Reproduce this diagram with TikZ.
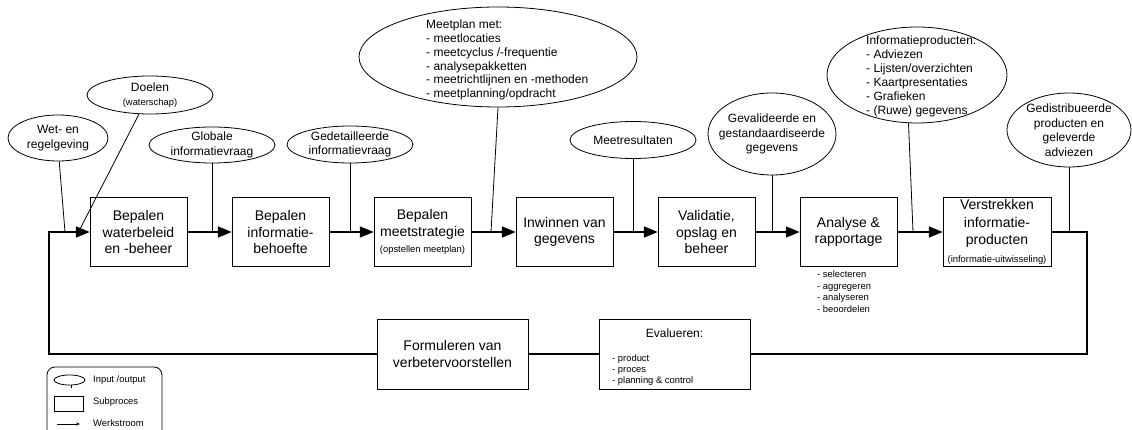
\documentclass[tikz,border=0pt]{standalone}
\usepackage{fontspec}
\setmainfont{Liberation Sans}
\usepackage{tikz}
\usetikzlibrary{arrows.meta,shapes,positioning}

\newcommand{\boxfont}{\fontsize{14}{16.5}\selectfont}
\newcommand{\iofont}{\fontsize{12}{14.5}\selectfont}
\newcommand{\kleinfont}{\fontsize{9.4}{11.7}\selectfont}

\tikzstyle{subproces} = [draw, rectangle, minimum width=97, minimum height=69,
    inner sep=1pt, align=center, font=\boxfont]
\tikzstyle{io} = [draw, ellipse, inner sep=0pt, line width=0.8pt]
\tikzstyle{iotekst} = [align=center, inner sep=0pt, font=\iofont]
\tikzstyle{lijst} = [align=left, inner sep=0pt, anchor=north west, font=\kleinfont]
\tikzstyle{legenda} = [anchor=west, inner sep=0pt, font=\kleinfont]
\tikzstyle{invoer} = [line width=0.8pt]
\tikzstyle{lijn} = [line width=1.8pt]
\tikzstyle{werkstroom} = [lijn, -{Triangle[length=14pt,width=11pt]}]

\begin{document}
\begin{tikzpicture}[x=1pt, y=-1pt, node distance=142pt]
  \useasboundingbox (0,0) rectangle (1132,430);

  % Place subprocesses
  \node [subproces] (b1) at (138.5,232) {Bepalen\\waterbeleid\\en -beheer};
  \node [subproces, right of=b1] (b2) {Bepalen\\informatie-\\behoefte};
  \node [subproces, right of=b2] (b3)
  {Bepalen\\meetstrategie\\{\kleinfont (opstellen meetplan)}};
  \node [subproces, right of=b3] (b4) {Inwinnen van\\gegevens};
  \node [subproces, right of=b4] (b5) {Validatie,\\opslag en\\beheer};
  \node [subproces, right of=b5] (b6) {Analyse \&\\rapportage};
  \node [subproces, right of=b6, node distance=148.5pt, minimum width=108,
    font=\fontsize{14}{17.5}\selectfont] (b7)
  {Verstrekken\\informatie-\\producten\\{\kleinfont (informatie-uitwisseling)}};
  \node [lijst] (b6lijst) at (817,270.5)
  {- selecteren\\- aggregeren\\- analyseren\\- beoordelen};

  \node [subproces, minimum width=151, minimum height=70] (form) at (452.5,354)
  {Formuleren van\\verbetervoorstellen};
  \node [subproces, minimum width=151, minimum height=70] (eval) at (674.5,354) {};
  \node [iotekst, below=9.5pt of eval.north] (evalkop) {Evalueren:};
  \node [lijst, font=\fontsize{9.4}{11}\selectfont] (evallijst) at (612,354.6)
  {- product\\- proces\\- planning \& control};

  % Place input/output
  \node [io, minimum width=100, minimum height=46] (wet) at (58,138) {};
  \node [iotekst] (wettekst) at (wet) {Wet- en\\regelgeving};
  \node [io, minimum width=126, minimum height=38] (doel) at (150,95) {};
  \node [iotekst] (doeltekst) at (doel) {Doelen\\{\kleinfont (waterschap)}};
  \node [io, minimum width=126, minimum height=36] (glob) at (212,145) {};
  \node [iotekst] (globtekst) at (glob) {Globale\\informatievraag};
  \node [io, minimum width=126, minimum height=37] (ged) at (350,144.5) {};
  \node [iotekst] (gedtekst) at (ged) {Gedetailleerde\\informatievraag};
  \node [io, minimum width=278, minimum height=100] (meet) at (498,57) {};
  \node [iotekst, align=left, anchor=north west, font=\fontsize{12}{13.9}\selectfont]
    (meettekst) at (426,19.5)
  {Meetplan met:\\- meetlocaties\\- meetcyclus /-frequentie\\- analysepakketten\\%
   - meetrichtlijnen en -methoden\\- meetplanning/opdracht};
  \node [io, minimum width=126, minimum height=37] (res) at (633,140) {};
  \node [iotekst] (restekst) at (res) {Meetresultaten};
  \node [io, minimum width=128, minimum height=82] (geval) at (772,134) {};
  \node [iotekst] (gevaltekst) at (geval)
  {Gevalideerde en\\gestandaardiseerde\\gegevens};
  \node [io, minimum width=180, minimum height=96] (info) at (917,75) {};
  \node [iotekst, align=left, anchor=north west, font=\fontsize{12}{14}\selectfont]
    (infotekst) at (866,36)
  {Informatieproducten:\\- Adviezen\\- Lijsten/overzichten\\- Kaartpresentaties\\%
   - Grafieken\\- (Ruwe) gegevens};
  \node [io, minimum width=124, minimum height=74] (distr) at (1069,130) {};
  \node [iotekst] (distrtekst) at (distr)
  {Gedistribueerde\\producten en\\geleverde\\adviezen};

  % Inputs onto the flow
  \coordinate (j1) at (65,232);
  \coordinate (j2) at (79,231);
  \coordinate (j5) at (491,232);
  \coordinate (j8) at (913,232);
  \draw [invoer] (wet.-87) -- (j1);
  \draw [invoer] (doel.-120) -- (j2);
  \draw [invoer] (glob.south) -- (glob.south |- b1.east);
  \draw [invoer] (ged.south) -- (ged.south |- b2.east);
  \draw [invoer] (meet.south) -- (j5);
  \draw [invoer] (res.south) -- (res.south |- b4.east);
  \draw [invoer] (geval.south) -- (geval.south |- b5.east);
  \draw [invoer] (info.-100) -- (j8);
  \draw [invoer] (distr.south) -- (distr.south |- b7.east);

  % Main flow
  \draw [werkstroom] (b1) -- (b2);
  \draw [werkstroom] (b2) -- (b3);
  \draw [werkstroom] (b3) -- (b4);
  \draw [werkstroom] (b4) -- (b5);
  \draw [werkstroom] (b5) -- (b6);
  \draw [werkstroom] (b6) -- (b7);

  % Feedback loop
  \coordinate (rechts) at (1087,354);
  \coordinate (links) at (49,232);
  \draw [lijn] (b7.east) -| (rechts) -- (eval.east);
  \draw [lijn] (eval) -- (form);
  \draw [werkstroom] (form.west) -| (links) -- (b1.west);

  % Legend
  \draw [rounded corners=8pt, line width=0.8pt] (47,367) rectangle (162,440);
  \node [io, minimum width=31, minimum height=10] (lio) at (69.5,380) {};
  \draw [invoer] (lio.-75) -- ++(0,3);
  \node [draw, line width=0.8pt, minimum width=29, minimum height=15, inner sep=0pt]
    (lsub) at (68.5,404) {};
  \coordinate (lp1) at (57,424);
  \coordinate (lp2) at (80,424);
  \draw [invoer, -{Stealth[length=4pt,width=3pt]}] (lp1) -- (lp2);
  \node [legenda] (lt1) at (93,380) {Input /output};
  \node [legenda] (lt2) at (93,402) {Subproces};
  \node [legenda] (lt3) at (93,423) {Werkstroom};
\end{tikzpicture}
\end{document}
